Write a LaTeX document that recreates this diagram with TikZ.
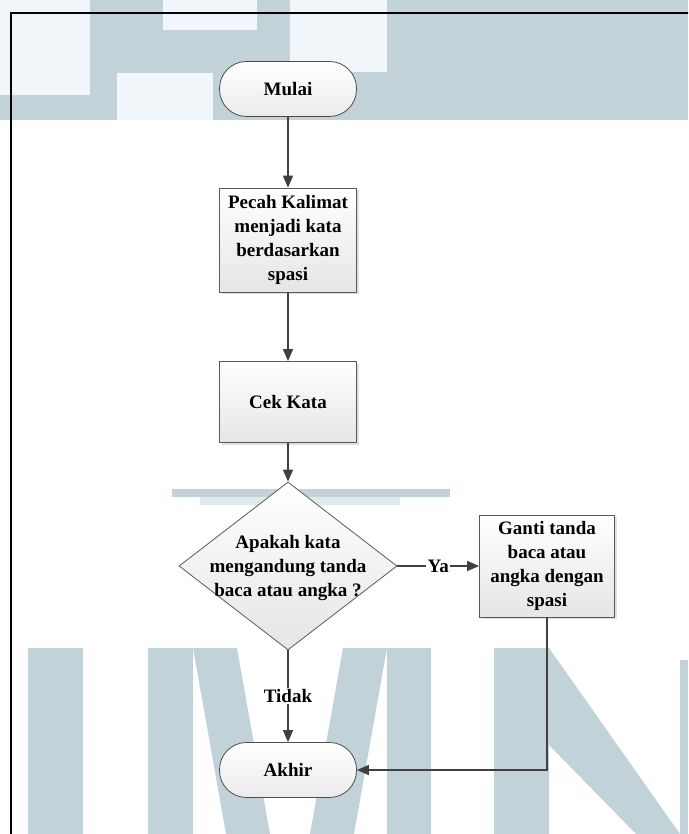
\documentclass[tikz,border=0pt]{standalone}
\usepackage{fontspec}
\setmainfont{Liberation Serif}
\usetikzlibrary{shapes,arrows,arrows.meta,shadows}
\tikzstyle{every picture}+=[remember picture]
\definecolor{wmark}{RGB}{193,211,217}
\definecolor{wlight}{RGB}{240,246,249}
\tikzset{
  terminal/.style={draw=black!70, line width=0.8pt, rounded corners=27pt,
    minimum width=137pt, minimum height=55pt, top color=white, bottom color=black!8},
  proses/.style={draw=black!65, line width=0.8pt, minimum width=137pt, align=center,
    top color=white, bottom color=black!10,
    drop shadow={shadow xshift=2pt, shadow yshift=-2pt, fill=black!25}},
  keputusan/.style={shape=diamond, draw=black!65, line width=0.8pt, inner sep=0pt,
    minimum width=218pt, minimum height=168pt, top color=white, bottom color=black!10},
  tulisan/.style={align=center, inner sep=0pt},
  keterangan/.style={fill=white, inner sep=1.5pt},
  panah/.style={draw=black!75, line width=1.5pt, -{Triangle[length=12pt,width=10pt]}}
}
\begin{document}
\begin{tikzpicture}[x=1pt, y=-1pt, font=\fontsize{19}{23.8}\selectfont\bfseries]
\useasboundingbox (0,0) rectangle (688,834);
\clip (0,0) rectangle (688,834);
% watermark
\fill[wmark] (0,0) rectangle (688,120);
\fill[wlight] (0,0) rectangle (90,95);
\fill[wlight] (163,0) rectangle (257,30);
\fill[wlight] (290,0) rectangle (387,72);
\fill[wlight] (117,73) rectangle (213,120);
\fill[wmark] (172,489) rectangle (450,497);
\fill[wmark!50] (200,497) rectangle (400,505);
\fill[wmark] (28,648) rectangle (83,834);
\fill[wmark] (148,648) rectangle (193,834);
\fill[wmark] (193,648) -- (237,648) -- (270,834) -- (226,834) -- cycle;
\fill[wmark] (343,648) -- (387,648) -- (354,834) -- (310,834) -- cycle;
\fill[wmark] (387,648) rectangle (431,834);
\fill[wmark] (494,648) rectangle (549,834);
\fill[wmark] (549,648) -- (680,834) -- (636,834) -- (549,745) -- cycle;
\fill[wmark] (680,660) rectangle (688,834);
% frame
\draw[line width=2.2pt] (11,850) -- (11,13) -- (700,13);
% flowchart
\node[terminal] (mulai) at (288,89) {Mulai};
\node[proses, minimum height=104pt] (pecah) at (288,240) {Pecah Kalimat\\menjadi kata\\berdasarkan\\spasi};
\node[proses, minimum height=81pt] (cek) at (288,402) {Cek Kata};
\node[keputusan] (tanya) at (288,566) {};
\node[tulisan] (tanyateks) at (288,568) {Apakah kata\\mengandung tanda\\baca atau angka ?};
\node[proses, minimum width=135pt, minimum height=102pt] (ganti) at (547,566) {Ganti tanda\\baca atau\\angka dengan\\spasi};
\node[terminal] (akhir) at (288,770) {Akhir};
\draw[panah] (mulai) -- (pecah);
\draw[panah] (pecah) -- (cek);
\draw[panah] (cek) -- (tanya);
\draw[panah] (tanya) -- node[keterangan] (ya) {Ya} (ganti);
\draw[panah] (tanya) -- node[keterangan] (tidak) {Tidak} (akhir);
\draw[panah] (ganti.south) |- (akhir.east);
\end{tikzpicture}
\end{document}
